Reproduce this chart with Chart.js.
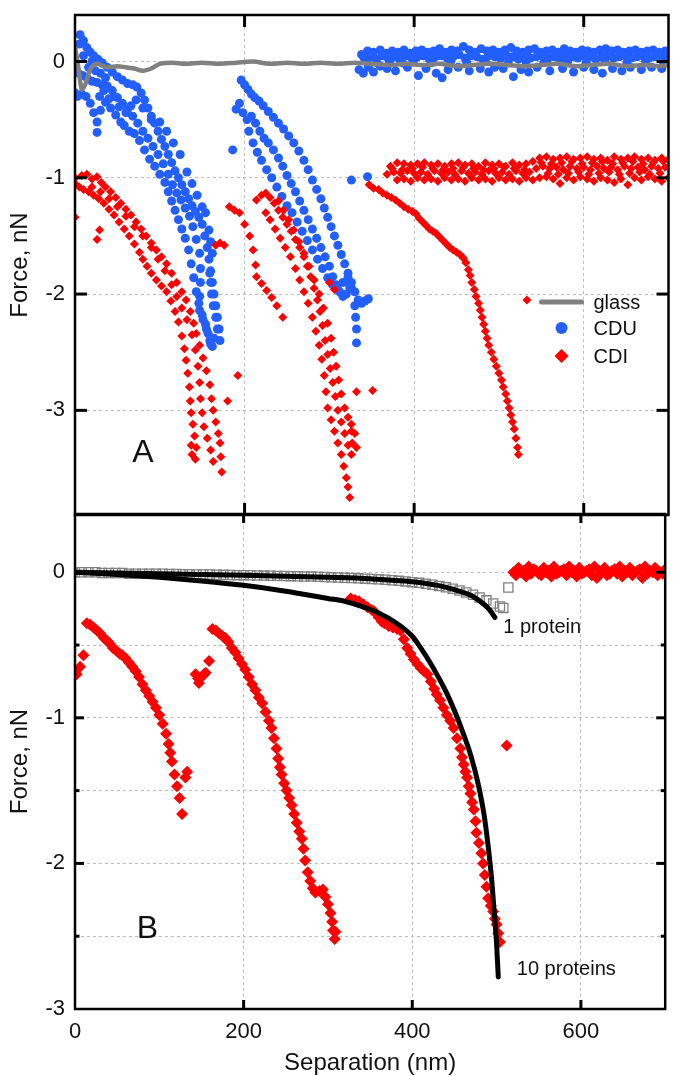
<!DOCTYPE html>
<html>
<head>
<meta charset="utf-8">
<script src="https://cdn.jsdelivr.net/npm/chart.js@4.4.0/dist/chart.umd.min.js"></script>
<style>
  body { margin: 0; background: #fff; }
  #wrap { position: relative; width: 673px; height: 1076px; }
  #chartA { position: absolute; left: 0; top: 0; }
  #chartB { position: absolute; left: 0; top: 500px; }
</style>
</head>
<body>
<div id="wrap">
  <canvas id="chartA" width="673" height="520"></canvas>
  <canvas id="chartB" width="673" height="576"></canvas>
</div>
<script>
// ---------- axes ----------
const xTicks = [0, 200, 400, 600];
const yTicksA = [-3, -2, -1, 0];
const yTicksB = [-3, -2.5, -2, -1.5, -1, -0.5, 0];

// ---------- panel A : glass (line) ----------
const glass = [[0,0.13],[4,-0.05],[8,-0.24],[12,-0.2],[17,-0.08],[22,-0.03],[27,-0.02],[33,-0.04],[40,-0.05],[50,-0.04],
  [60,-0.05],[70,-0.06],[80,-0.08],[90,-0.06],[100,-0.02],[115,-0.01],[130,-0.02],[150,-0.01],[170,-0.02],[190,-0.01],
  [210,0.0],[230,-0.02],[250,-0.01],[270,-0.02],[290,-0.01],[310,-0.02],[330,-0.01],[350,-0.02],[370,-0.03],[390,-0.02],
  [410,-0.03],[430,-0.02],[450,-0.04],[470,-0.03],[490,-0.02],[510,-0.03],[530,-0.04],[550,-0.03],[570,-0.02],[590,-0.04],
  [610,-0.03],[630,-0.02],[650,-0.04],[670,-0.03],[690,-0.04],[700,-0.03]];

// ---------- panel A : CDU (blue circles) ----------
const cdu1 = [[6,0.23],[10,0.18],[14,0.12],[18,0.08],[22,0.05],[27,0.02],[32,-0.01],[38,-0.05],[44,-0.09],[50,-0.13],
  [56,-0.16],[62,-0.19],[68,-0.2],[73,-0.22],[78,-0.27],[82,-0.33],[86,-0.4],[90,-0.47],[94,-0.53],[98,-0.6],[102,-0.67],
  [106,-0.73],[110,-0.8],[114,-0.87],[118,-0.94],[122,-1.0],[126,-1.06],[130,-1.12],[134,-1.18],[138,-1.24],[142,-1.29],
  [146,-1.34],[150,-1.4],[153,-1.5],[156,-1.6],[158,-1.7],[160,-1.8],[162,-1.9],[164,-2.0],[166,-2.1],[168,-2.2],[170,-2.3],[171,-2.4]];
const cdu2 = [[0,-0.05],[4,-0.1],[9,-0.12],[14,-0.14],[20,-0.17],[26,-0.18],[32,-0.2],[38,-0.21],[44,-0.25],[50,-0.31],
  [56,-0.36],[62,-0.41],[68,-0.47],[74,-0.53],[80,-0.6],[86,-0.66],[92,-0.73],[98,-0.8],[104,-0.88],[110,-0.97],[115,-1.06],
  [120,-1.13],[125,-1.19],[130,-1.26],[135,-1.33],[139,-1.42],[143,-1.53],[147,-1.65],[148,-1.78],[148,-1.9],[147,-2.02],
  [147,-2.14],[151,-2.22],[155,-2.3],[159,-2.4],[162,-2.45]];
const cdu3 = [[0,-0.27],[3,-0.3],[8,-0.28],[13,-0.3],[18,-0.36],[22,-0.44],[26,-0.52],[26,-0.61],[30,-0.42],[36,-0.35],
  [42,-0.4],[48,-0.46],[54,-0.52],[58,-0.55],[64,-0.6],[70,-0.62],[76,-0.68],[82,-0.76],[88,-0.84],[94,-0.9],[100,-0.97],
  [106,-1.04],[110,-1.12],[114,-1.2],[118,-1.28],[122,-1.36],[126,-1.44],[130,-1.52],[134,-1.62],[137,-1.74],[140,-1.86],
  [143,-1.98],[146,-2.08],[150,-2.18],[154,-2.26],[157,-2.34],[160,-2.43],[164,-2.38],[168,-2.3],[166,-2.2],[163,-2.1],
  [161,-2.0],[160,-1.9],[159,-1.82]];
const cdu4 = [[5,0.15],[10,0.05],[16,-0.05],[20,0.0],[24,-0.08],[30,-0.1],[36,-0.14],[29,-0.3],[34,-0.25],[40,-0.32],
  [46,-0.3],[52,-0.39],[60,-0.44],[66,-0.38],[72,-0.33],[80,-0.4],[90,-0.5],[100,-0.52],[108,-0.6],[116,-0.7],[124,-0.8],
  [132,-0.95],[138,-1.05],[144,-1.15],[150,-1.25],[154,-1.3],[158,-1.45],[160,-1.55],[162,-1.65]];
const cdu5 = [[196,-0.16],[200,-0.2],[204,-0.24],[208,-0.28],[212,-0.31],[217,-0.34],[222,-0.38],[228,-0.43],[234,-0.48],
  [240,-0.53],[246,-0.58],[252,-0.64],[258,-0.7],[264,-0.77],[270,-0.85],[275,-0.93],[280,-1.02],[285,-1.1],[290,-1.18],
  [294,-1.26],[298,-1.34],[302,-1.42],[306,-1.5],[310,-1.58],[314,-1.66],[318,-1.74],[322,-1.82],[326,-1.9],[330,-1.98],
  [334,-2.05],[338,-2.08],[342,-2.06],[346,-2.04]];
const cdu6 = [[190,-0.41],[194,-0.36],[198,-0.44],[203,-0.5],[208,-0.47],[213,-0.53],[218,-0.6],[223,-0.66],[228,-0.7],
  [234,-0.76],[240,-0.83],[245,-0.9],[250,-0.98],[255,-1.05],[260,-1.12],[265,-1.2],[270,-1.28],[275,-1.36],[280,-1.44],
  [285,-1.52],[290,-1.6],[295,-1.68],[300,-1.76],[304,-1.85],[308,-1.92],[312,-1.98],[316,-2.02],[320,-2.0],[324,-1.94]];
const cdu7 = [[186,-0.76],[205,-0.6],[210,-0.7],[215,-0.78],[220,-0.85],[226,-0.93],[232,-1.0],[238,-1.08],[244,-1.16],
  [250,-1.24],[256,-1.3],[262,-1.38],[268,-1.46],[274,-1.54],[280,-1.62],[286,-1.7],[292,-1.78],[298,-1.86],[304,-1.92],
  [310,-1.96],[316,-1.9],[322,-1.86],[326,-1.95],[330,-2.1],[331,-2.2],[332,-2.3],[332,-2.42]];
const cduLone = [[326,-1.02],[345,-0.99]];
const cduFlat = [[338,0.06],[345,0.09],[352,0.08],[360,0.1],[367,0.07],[374,0.09],[381,0.08],[388,0.1],[395,0.07],[402,0.09],
  [409,0.1],[416,0.08],[423,0.09],[430,0.11],[437,0.08],[444,0.1],[451,0.09],[458,0.13],[465,0.1],[472,0.08],[479,0.11],
  [486,0.09],[493,0.1],[500,0.08],[507,0.1],[514,0.12],[521,0.09],[528,0.08],[535,0.1],[542,0.11],[549,0.08],[556,0.09],
  [563,0.1],[570,0.08],[577,0.11],[584,0.09],[591,0.08],[598,0.1],[605,0.09],[612,0.08],[619,0.1],[626,0.11],[633,0.09],
  [640,0.1],[647,0.08],[654,0.09],[661,0.1],[668,0.08],[675,0.09],[682,0.1],[689,0.08],[696,0.09],
  [341,0.03],[348,0.04],[355,0.02],[362,0.05],[369,0.03],[376,0.04],[383,0.02],[390,0.05],[397,0.03],[404,0.04],[411,0.05],
  [418,0.02],[425,0.04],[432,0.05],[439,0.03],[446,0.04],[453,0.06],[460,0.03],[467,0.05],[474,0.04],[481,0.02],[488,0.05],
  [495,0.04],[502,0.03],[509,0.05],[516,0.04],[523,0.02],[530,0.05],[537,0.03],[544,0.04],[551,0.05],[558,0.03],[565,0.04],
  [572,0.02],[579,0.05],[586,0.04],[593,0.03],[600,0.05],[607,0.04],[614,0.02],[621,0.04],[628,0.05],[635,0.03],[642,0.04],
  [649,0.05],[656,0.03],[663,0.04],[670,0.05],[677,0.03],[684,0.04],[691,0.05],[698,0.03],
  [344,0.0],[356,-0.01],[371,0.0],[386,-0.01],[399,0.0],[421,-0.01],[443,0.0],[462,-0.01],[484,0.0],[511,-0.01],[532,0.0],
  [553,-0.01],[581,0.0],[603,-0.01],[625,0.0],[651,-0.01],[673,0.0],[694,-0.01],
  [335,-0.07],[340,-0.1],[346,-0.05],[352,-0.09],[360,-0.04],[368,-0.06],[378,-0.08],[392,-0.05],[405,-0.12],[414,-0.06],
  [426,-0.1],[433,-0.14],[440,-0.07],[452,-0.05],[465,-0.08],[478,-0.06],[488,-0.09],[495,-0.05],[505,-0.06],[517,-0.13],
  [526,-0.07],[535,-0.09],[545,-0.05],[560,-0.08],[575,-0.06],[588,-0.09],[600,-0.05],[612,-0.07],[622,-0.1],[634,-0.06],
  [645,-0.08],[655,-0.05],[668,-0.07],[680,-0.05],[692,-0.06]];

// ---------- panel A : CDI (red diamonds) ----------
const cdi1 = [[0,-1.05],[5,-1.08],[10,-1.1],[16,-1.12],[22,-1.15],[28,-1.18],[34,-1.22],[40,-1.27],[46,-1.32],[52,-1.38],
  [58,-1.44],[64,-1.5],[70,-1.57],[76,-1.64],[80,-1.7],[85,-1.76],[90,-1.82],[96,-1.88],[102,-1.93],[108,-1.98],[113,-2.06],
  [118,-2.15],[122,-2.24],[126,-2.36],[129,-2.47],[131,-2.57],[133,-2.68],[135,-2.8],[136,-2.92],[137,-3.02],[139,-3.12],
  [141,-3.22],[143,-3.32],[142,-3.42]];
const cdi2 = [[0,-1.0],[8,-0.98],[14,-0.97],[20,-1.01],[26,-0.99],[31,-1.04],[36,-1.08],[42,-1.12],[48,-1.17],[54,-1.22],
  [60,-1.27],[66,-1.32],[72,-1.38],[78,-1.44],[84,-1.5],[90,-1.56],[96,-1.62],[102,-1.68],[108,-1.74],[114,-1.82],[120,-1.9],
  [126,-1.98],[131,-2.05],[136,-2.15],[140,-2.25],[143,-2.34],[147,-2.44],[151,-2.55],[155,-2.66],[159,-2.78],[161,-2.9],
  [163,-3.0],[166,-3.1],[169,-3.2],[171,-3.28],[172,-3.4],[173,-3.53]];
const cdi3 = [[20,-1.08],[30,-1.12],[40,-1.18],[50,-1.25],[60,-1.33],[70,-1.42],[80,-1.5],[90,-1.6],[98,-1.7],[106,-1.8],
  [114,-1.92],[120,-2.02],[126,-2.12],[132,-2.22],[138,-2.35],[142,-2.48],[145,-2.62],[147,-2.76],[148,-2.9],[150,-3.02],
  [152,-3.14],[156,-3.24],[160,-3.34],[163,-3.44]];
const cdi4 = [[0,-1.34],[29,-1.45],[26,-1.53],[192,-2.7],[180,-2.92],[166,-1.58],[171,-1.56],[176,-1.58],[138,-3.38],[137,-3.3]];
const cdi5 = [[182,-1.25],[188,-1.28],[194,-1.3],[200,-1.4],[206,-1.5],[210,-1.62],[213,-1.75],[214,-1.85],[220,-1.91],
  [226,-1.97],[232,-2.03],[238,-2.1],[245,-2.2]];
const cdi6 = [[214,-1.19],[220,-1.15],[225,-1.13],[230,-1.17],[235,-1.22],[240,-1.28],[245,-1.34],[250,-1.4],[255,-1.46],
  [260,-1.53],[265,-1.6],[270,-1.68],[274,-1.76],[278,-1.85],[282,-1.95],[286,-2.05],[289,-2.15],[292,-2.27],[295,-2.4],
  [298,-2.52],[301,-2.64],[304,-2.76],[307,-2.88],[310,-3.0],[314,-3.1],[318,-3.2],[322,-3.3],[326,-3.38],[327,-3.28],[326,-3.18]];
const cdi7 = [[225,-1.3],[230,-1.36],[236,-1.44],[242,-1.52],[248,-1.6],[254,-1.68],[260,-1.78],[265,-1.88],[270,-1.98],
  [275,-2.08],[280,-2.2],[284,-2.32],[288,-2.44],[291,-2.56],[294,-2.7],[296,-2.84],[298,-2.98],[302,-3.08],[306,-3.18],
  [310,-3.28],[314,-3.38],[317,-3.48],[320,-3.58],[322,-3.66],[324,-3.75]];
const cdi8 = [[240,-1.2],[246,-1.28],[252,-1.36],[258,-1.45],[264,-1.55],[270,-1.65],[276,-1.76],[282,-1.88],[288,-2.0],
  [293,-2.12],[298,-2.25],[302,-2.38],[305,-2.5],[308,-2.62],[311,-2.74],[314,-2.86],[318,-2.98],[322,-3.06],[326,-3.12],
  [330,-3.2],[332,-3.32],[351,-2.83],[332,-2.84],[300,-1.9],[306,-1.96]];
const cdi9 = [[347,-1.06],[352,-1.09],[358,-1.1],[363,-1.13],[368,-1.15],[373,-1.17],[378,-1.19],[383,-1.22],[388,-1.25],
  [393,-1.27],[398,-1.29],[402,-1.31],[406,-1.35],[410,-1.38],[414,-1.41],[418,-1.44],[422,-1.46],[426,-1.48],[430,-1.51],
  [434,-1.54],[438,-1.57],[442,-1.6],[446,-1.62],[450,-1.64],[454,-1.66],[458,-1.69],[461,-1.73],[464,-1.79],[466,-1.84],
  [468,-1.9],[471,-1.96],[473,-2.02],[476,-2.08],[478,-2.14],[480,-2.2],[482,-2.26],[484,-2.32],[486,-2.38],[488,-2.44],
  [491,-2.5],[494,-2.56],[497,-2.62],[500,-2.68],[503,-2.74],[505,-2.8],[508,-2.86],[510,-2.92],[512,-2.98],[514,-3.04],
  [516,-3.1],[518,-3.16],[520,-3.24],[522,-3.32],[523,-3.38],[533,-2.05]];
const cdiFlat = [[372,-0.9],[380,-0.87],[388,-0.88],[396,-0.89],[404,-0.88],[412,-0.87],[420,-0.89],[428,-0.88],[436,-0.9],
  [444,-0.88],[452,-0.87],[460,-0.89],[468,-0.88],[476,-0.9],[484,-0.87],[492,-0.89],[500,-0.88],[508,-0.9],[516,-0.87],
  [524,-0.89],[532,-0.88],[540,-0.86],[548,-0.83],[556,-0.82],[564,-0.84],[572,-0.83],[580,-0.82],[588,-0.84],[596,-0.83],
  [604,-0.82],[612,-0.84],[620,-0.83],[628,-0.85],[636,-0.82],[644,-0.84],[652,-0.83],[660,-0.82],[668,-0.84],[676,-0.83],
  [684,-0.85],[692,-0.83],[700,-0.84],
  [368,-0.97],[376,-0.95],[384,-0.96],[392,-0.94],[400,-0.96],[408,-0.95],[416,-0.97],[424,-0.94],[432,-0.96],[440,-0.95],
  [448,-0.97],[456,-0.94],[464,-0.96],[472,-0.95],[480,-0.97],[488,-0.94],[496,-0.96],[504,-0.95],[512,-0.97],[520,-0.94],
  [528,-0.96],[536,-0.95],[544,-0.92],[552,-0.9],[560,-0.92],[568,-0.91],[576,-0.93],[584,-0.9],[592,-0.92],[600,-0.91],
  [608,-0.93],[616,-0.9],[624,-0.92],[632,-0.91],[640,-0.93],[648,-0.9],[656,-0.92],[664,-0.91],[672,-0.93],[680,-0.9],
  [688,-0.92],[696,-0.91],
  [374,-0.92],[386,-0.93],[398,-0.92],[410,-0.91],[422,-0.92],[434,-0.93],[446,-0.92],[458,-0.91],[470,-0.92],[482,-0.93],
  [494,-0.92],[506,-0.91],[518,-0.92],[530,-0.93],[550,-0.87],[562,-0.88],[574,-0.87],[586,-0.86],[598,-0.88],[610,-0.87],
  [622,-0.86],[634,-0.88],[646,-0.87],[658,-0.86],[670,-0.88],[682,-0.87],[694,-0.86],
  [558,-0.96],[570,-0.97],[582,-0.96],[594,-0.95],[606,-0.97],[618,-0.96],[630,-0.95],[642,-0.97],[654,-0.96],[666,-0.95],
  [678,-0.97],[690,-0.96],
  [380,-1.02],[388,-1.01],[396,-1.03],[404,-1.0],[412,-1.02],[420,-1.01],[428,-1.03],[436,-1.0],[444,-1.02],[452,-1.01],
  [460,-1.03],[468,-1.0],[476,-1.02],[484,-1.01],[492,-1.03],[500,-1.0],[508,-1.02],[516,-1.01],[524,-1.03],[532,-1.0],
  [540,-1.02],[548,-1.0],[556,-0.99],[564,-1.01],[572,-1.05],[580,-1.0],[588,-1.02],[596,-0.99],[604,-1.01],[612,-1.03],
  [620,-1.0],[628,-1.02],[636,-1.04],[644,-1.01],[652,-1.06],[660,-1.0],[668,-1.02],[676,-0.99],[684,-1.01],[692,-1.03],[700,-1.0]];

// ---------- panel B : model curves ----------
const oneProteinFit = [[0,0],[100,-0.01],[200,-0.02],[300,-0.035],[350,-0.045],[400,-0.065],[430,-0.09],[450,-0.12],
  [470,-0.16],[485,-0.22],[492,-0.26],[498,-0.31]];
const tenProteinFit = [[0,0],[50,-0.015],[100,-0.035],[150,-0.06],[200,-0.09],[250,-0.13],[300,-0.18],[320,-0.2],
  [340,-0.235],[360,-0.28],[380,-0.345],[400,-0.44],[410,-0.52],[420,-0.61],[430,-0.71],[440,-0.82],[450,-0.95],
  [460,-1.1],[470,-1.27],[478,-1.45],[485,-1.66],[490,-1.88],[494,-2.1],[497,-2.32],[500,-2.55],[502,-2.78]];
const oneProteinPts = [[0,0.0],[8,0.0],[16,0.0],[24,0.0],[32,-0.005],[40,-0.005],[48,-0.005],[56,-0.005],[64,-0.01],[72,-0.01],
  [80,-0.01],[88,-0.01],[96,-0.01],[104,-0.01],[112,-0.012],[120,-0.012],[128,-0.014],[136,-0.014],[144,-0.015],[152,-0.015],
  [160,-0.016],[168,-0.017],[176,-0.018],[184,-0.019],[192,-0.02],[200,-0.02],[208,-0.021],[216,-0.022],[224,-0.023],
  [232,-0.024],[240,-0.025],[248,-0.026],[256,-0.027],[264,-0.028],[272,-0.029],[280,-0.03],[288,-0.031],[296,-0.033],
  [304,-0.035],[312,-0.036],[320,-0.038],[328,-0.04],[336,-0.042],[344,-0.044],[352,-0.046],[360,-0.049],[368,-0.052],
  [376,-0.055],[384,-0.059],[392,-0.063],[400,-0.068],[408,-0.073],[416,-0.079],[424,-0.086],[432,-0.094],[440,-0.103],
  [448,-0.113],[456,-0.125],[464,-0.139],[472,-0.155],[480,-0.173],[488,-0.193],[496,-0.215],[504,-0.235],[508,-0.245],[514,-0.105]];

// ---------- panel B : CDI (red diamonds) ----------
const cdiB1 = [[2,-0.7],[6,-0.65],[10,-0.57],[14,-0.35],[18,-0.36],[22,-0.38],[26,-0.4],[30,-0.42],[34,-0.45],[38,-0.47],
  [41,-0.49],[45,-0.52],[49,-0.54],[53,-0.56],[56,-0.57],[60,-0.59],[64,-0.62],[68,-0.65],[72,-0.68],[76,-0.72],[80,-0.77],
  [84,-0.81],[88,-0.85],[92,-0.89],[96,-0.93],[100,-0.98],[104,-1.04],[108,-1.11],[111,-1.18],[113,-1.24],[115,-1.3],
  [118,-1.39],[121,-1.47],[124,-1.55],[127,-1.66],[133,-1.37],[131,-1.41]];
const cdiB2 = [[143,-0.7],[146,-0.73],[147,-0.76],[150,-0.72],[153,-0.7],[155,-0.69],[159,-0.61]];
const cdiB3 = [[163,-0.39],[167,-0.4],[171,-0.42],[175,-0.44],[178,-0.45],[182,-0.48],[186,-0.52],[190,-0.55],[194,-0.59],
  [198,-0.63],[202,-0.67],[206,-0.72],[210,-0.77],[214,-0.81],[218,-0.86],[222,-0.9],[226,-0.96],[230,-1.02],[233,-1.07],
  [236,-1.14],[239,-1.21],[241,-1.28],[243,-1.34],[245,-1.39],[248,-1.45],[251,-1.5],[254,-1.55],[257,-1.6],[260,-1.66],
  [263,-1.72],[266,-1.78],[269,-1.83],[271,-1.9],[273,-1.98],[276,-2.06],[279,-2.12],[282,-2.17],[285,-2.2],[290,-2.19],
  [294,-2.18],[297,-2.23],[300,-2.28],[303,-2.34],[305,-2.4],[306,-2.46],[308,-2.52],[309,-2.47]];
const cdiB4 = [[327,-0.18],[332,-0.19],[337,-0.2],[342,-0.22],[347,-0.24],[352,-0.26],[355,-0.27],[360,-0.31],[364,-0.34],
  [367,-0.35],[372,-0.37],[377,-0.38],[382,-0.39],[386,-0.4],[390,-0.46],[394,-0.52],[398,-0.56],[402,-0.6],[406,-0.63],
  [410,-0.66],[414,-0.68],[418,-0.7],[422,-0.75],[426,-0.8],[429,-0.84],[433,-0.88],[437,-0.93],[441,-0.98],[445,-1.02],
  [449,-1.07],[453,-1.14],[457,-1.21],[459,-1.27],[461,-1.32],[463,-1.37],[465,-1.41],[467,-1.47],[469,-1.52],[471,-1.58],
  [473,-1.63],[475,-1.71],[476,-1.79],[479,-1.86],[482,-1.93],[484,-2.0],[486,-2.08],[488,-2.16],[490,-2.24],[493,-2.29],
  [496,-2.33],[498,-2.38],[500,-2.42],[502,-2.48],[504,-2.54],[512,-1.19]];
const cdiBFlat = [[520,0.0],[526,0.03],[532,0.01],[538,0.04],[544,0.02],[550,-0.01],[556,0.03],[562,0.01],[568,0.04],[574,0.0],
  [580,0.02],[586,0.04],[592,0.01],[598,0.03],[604,0.0],[610,0.02],[616,0.04],[622,0.01],[628,0.03],[634,-0.01],[640,0.02],
  [646,0.04],[652,0.01],[658,0.03],[664,0.0],[670,0.02],[676,0.04],[682,0.01],[688,0.03],[694,0.0],[700,0.02],
  [523,-0.02],[529,0.0],[535,-0.03],[541,-0.01],[547,0.01],[553,-0.02],[559,0.0],[565,-0.03],[571,-0.01],[577,0.01],
  [583,-0.02],[589,0.0],[595,-0.03],[601,-0.01],[607,0.01],[613,-0.02],[619,-0.04],[625,0.0],[631,-0.02],[637,0.01],
  [643,-0.01],[649,-0.03],[655,0.0],[661,-0.02],[667,0.01],[673,-0.04],[679,-0.01],[685,0.0],[691,-0.02],[697,-0.01]];

const BLUE = 'rgb(35,95,255)';
const RED = 'rgb(255,0,0)';
const GRAY = 'rgb(128,128,128)';
const FONT = "'Liberation Sans', Arial, sans-serif";

function pts(...arrs) {
  return [].concat(...arrs).map(([x, y]) => ({x, y}));
}

// frame, inward ticks, text labels and legend
const framePlugin = {
  id: 'frame',
  afterDatasetsDraw(chart, args, opts) {
    const {ctx, chartArea: a, scales: {x, y}} = chart;
    const seg = (x1, y1, x2, y2) => { ctx.beginPath(); ctx.moveTo(x1, y1); ctx.lineTo(x2, y2); ctx.stroke(); };
    ctx.save();
    ctx.strokeStyle = '#000';
    ctx.lineWidth = 3;
    x.ticks.forEach(t => {
      if (t.value <= x.min || t.value >= x.max) return;
      const px = x.getPixelForValue(t.value);
      seg(px, a.top, px, a.top + opts.tickLen);
      seg(px, a.bottom, px, a.bottom - opts.tickLen);
    });
    y.ticks.forEach(t => {
      if (t.value <= y.min || t.value >= y.max) return;
      const py = y.getPixelForValue(t.value);
      const len = Number.isInteger(t.value) ? opts.tickLen : opts.tickLen / 2;
      seg(a.left, py, a.left + len, py);
      seg(a.right, py, a.right - len, py);
    });
    ctx.lineWidth = 2.5;
    ctx.strokeRect(a.left, a.top, a.right - a.left, a.bottom - a.top);

    ctx.fillStyle = '#111';
    ctx.textBaseline = 'middle';
    (opts.labels || []).forEach(l => {
      ctx.font = l.size + 'px ' + FONT;
      ctx.textAlign = l.align;
      ctx.fillText(l.text, x.getPixelForValue(l.x), y.getPixelForValue(l.y));
    });

    if (opts.legend) {
      const lx = a.right - 107, tx = a.right - 75;
      const rows = [a.top + 287, a.top + 313, a.top + 341];
      ctx.strokeStyle = GRAY; ctx.lineWidth = 5; ctx.lineCap = 'round';
      seg(lx - 20, rows[0], lx + 20, rows[0]);
      ctx.fillStyle = BLUE;
      ctx.beginPath(); ctx.arc(lx, rows[1], 6, 0, Math.PI * 2); ctx.fill();
      ctx.fillStyle = RED;
      ctx.beginPath(); ctx.moveTo(lx, rows[2] - 7); ctx.lineTo(lx + 7, rows[2]); ctx.lineTo(lx, rows[2] + 7); ctx.lineTo(lx - 7, rows[2]); ctx.closePath(); ctx.fill();
      ctx.fillStyle = '#111';
      ctx.font = '20px ' + FONT;
      ctx.textAlign = 'left';
      ['glass', 'CDU', 'CDI'].forEach((s, i) => ctx.fillText(s, tx, rows[i] + 1));
    }
    ctx.restore();
  }
};

const gridStyle = { color: '#bdbdbd', lineWidth: 1, drawTicks: false };

function xScale(showLabels) {
  return {
    type: 'linear', min: 0, max: 700,
    border: { display: false, dash: [3, 3] },
    grid: Object.assign({}, gridStyle),
    afterBuildTicks: s => { s.ticks = xTicks.map(v => ({value: v})); },
    afterFit: s => { s.height = showLabels ? 67 : 0; s.paddingLeft = 0; s.paddingRight = 0; },
    ticks: { display: showLabels, padding: 10, color: '#111', font: { family: FONT, size: 22 } },
    title: { display: showLabels, text: 'Separation (nm)', color: '#111', padding: { top: 0, bottom: 1 },
      font: { family: FONT, size: 24, lineHeight: 1 } }
  };
}

function yScale(min, max, tickVals) {
  return {
    type: 'linear', min: min, max: max,
    border: { display: false, dash: [3, 3] },
    grid: Object.assign({}, gridStyle),
    afterBuildTicks: s => { s.ticks = tickVals.map(v => ({value: v})); },
    afterFit: s => { s.width = 75; s.paddingTop = 0; s.paddingBottom = 0; },
    ticks: { padding: 10, color: '#111', font: { family: FONT, size: 22 },
      callback: v => Number.isInteger(v) ? String(v) : '' },
    title: { display: true, text: 'Force, nN', color: '#111', padding: { top: 6, bottom: 0 },
      font: { family: FONT, size: 24 } }
  };
}

new Chart(document.getElementById('chartA'), {
  type: 'scatter',
  data: {
    datasets: [
      { label: 'glass', data: pts(glass), showLine: true, borderColor: GRAY, borderWidth: 4.5, pointRadius: 0,
        tension: 0.3, order: 0 },
      { label: 'CDI', data: pts(cdi1, cdi2, cdi3, cdi4, cdi5, cdi6, cdi7, cdi8, cdi9, cdiFlat), pointStyle: 'rectRot',
        pointRadius: 4.5, backgroundColor: RED, borderColor: RED, borderWidth: 0, order: 1 },
      { label: 'CDU', data: pts(cdu1, cdu2, cdu3, cdu4, cdu5, cdu6, cdu7, cduLone, cduFlat), pointStyle: 'circle',
        pointRadius: 4.5, backgroundColor: BLUE, borderColor: BLUE, borderWidth: 0, order: 2 }
    ]
  },
  options: {
    responsive: false, animation: false,
    layout: { padding: { top: 15, left: 0, right: 3, bottom: 5 } },
    scales: { x: xScale(false), y: yScale(-3.9, 0.4, yTicksA) },
    plugins: {
      legend: { display: false }, tooltip: { enabled: false },
      frame: { tickLen: 12, legend: true, labels: [{ text: 'A', x: 80, y: -3.37, size: 32, align: 'center' }] }
    }
  },
  plugins: [framePlugin]
});

new Chart(document.getElementById('chartB'), {
  type: 'scatter',
  data: {
    datasets: [
      { label: '1 protein', data: pts(oneProteinFit), showLine: true, borderColor: '#000', borderWidth: 5, pointRadius: 0,
        cubicInterpolationMode: 'monotone', borderCapStyle: 'round', order: 0 },
      { label: '10 proteins', data: pts(tenProteinFit), showLine: true, borderColor: '#000', borderWidth: 5, pointRadius: 0,
        cubicInterpolationMode: 'monotone', borderCapStyle: 'round', order: 0 },
      { label: 'CDI', data: pts(cdiB1, cdiB2, cdiB3, cdiB4, cdiBFlat), pointStyle: 'rectRot', pointRadius: 6,
        backgroundColor: RED, borderColor: RED, borderWidth: 0, order: 1 },
      { label: 'model', data: pts(oneProteinPts), pointStyle: 'rect', pointRadius: 6.5,
        backgroundColor: 'rgba(255,255,255,0)', borderColor: GRAY, borderWidth: 1.3, order: 2 }
    ]
  },
  options: {
    responsive: false, animation: false,
    layout: { padding: { top: 14, left: 0, right: 3, bottom: 0 } },
    scales: { x: xScale(true), y: yScale(-3, 0.4, yTicksB) },
    plugins: {
      legend: { display: false }, tooltip: { enabled: false },
      frame: { tickLen: 9, legend: false, labels: [
        { text: 'B', x: 86, y: -2.45, size: 32, align: 'center' },
        { text: '1 protein', x: 508, y: -0.38, size: 20, align: 'left' },
        { text: '10 proteins', x: 524, y: -2.73, size: 20, align: 'left' }
      ] }
    }
  },
  plugins: [framePlugin]
});
</script>
</body>
</html>
